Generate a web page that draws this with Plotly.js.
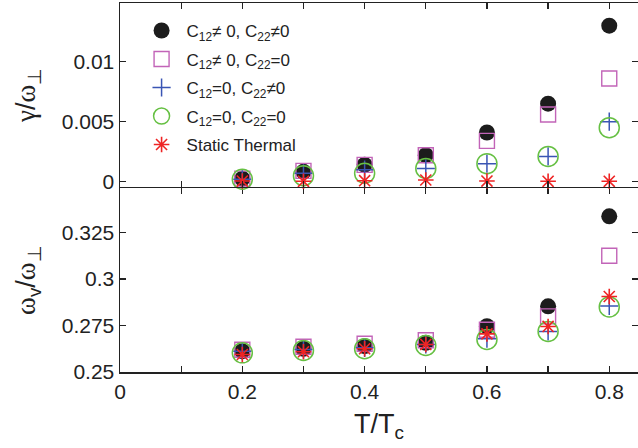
<!DOCTYPE html>
<html>
<head>
<meta charset="utf-8">
<script src="https://cdn.plot.ly/plotly-3.0.1.min.js"></script>
<style>html,body{margin:0;padding:0;background:#fff;}#chart{width:638px;height:448px;}</style>
</head>
<body>
<div id="chart"></div>
<script>
// Temperatures T/Tc
const temps = [0.2, 0.3, 0.4, 0.5, 0.6, 0.7, 0.8];

// Series names
const seriesNames = [
  "C<sub>12</sub>\u2260 0, C<sub>22</sub>\u22600",
  "C<sub>12</sub>\u2260 0, C<sub>22</sub>=0",
  "C<sub>12</sub>=0, C<sub>22</sub>\u22600",
  "C<sub>12</sub>=0, C<sub>22</sub>=0",
  "Static Thermal"
];

// Top panel: damping gamma / omega_perp
const gammaFull      = [0.00025, 0.00083, 0.0014, 0.0022, 0.0041, 0.0065, 0.0130];
const gammaC12Only   = [0.00025, 0.0009, 0.0014, 0.0022, 0.0034, 0.0056, 0.0086];
const gammaC22Only   = [0.0002, 0.0007, 0.0010, 0.0011, 0.0015, 0.0021, 0.0050];
const gammaNone      = [0.0002, 0.0005, 0.0007, 0.0011, 0.0015, 0.0021, 0.0045];
const gammaStatic    = [0.00005, 0.00003, 0.00008, 0.00014, 0.00005, 0.00003, 0.00003];

// Bottom panel: frequency omega_v / omega_perp
const omegaFull      = [0.2612, 0.2625, 0.2639, 0.2657, 0.2746, 0.2853, 0.3337];
const omegaC12Only   = [0.2620, 0.2636, 0.2652, 0.2671, 0.2727, 0.2799, 0.3125];
const omegaC22Only   = [0.2612, 0.2621, 0.2630, 0.2648, 0.2679, 0.2718, 0.2855];
const omegaNone      = [0.2603, 0.2616, 0.2625, 0.2643, 0.2675, 0.2718, 0.2850];
const omegaStatic    = [0.2594, 0.2609, 0.2625, 0.2648, 0.2705, 0.2745, 0.2906];

// Tick labels
const xTickVals = [0, 0.1, 0.2, 0.3, 0.4, 0.5, 0.6, 0.7, 0.8];
const xTickText = ["0", "", "0.2", "", "0.4", "", "0.6", "", "0.8"];
const gammaTickVals = [0, 0.005, 0.01];
const gammaTickText = ["0", "0.005", "0.01"];
const omegaTickVals = [0.25, 0.275, 0.3, 0.325];
const omegaTickText = ["0.25", "0.275", "0.3", "0.325"];

const markerStyles = [
  {symbol: "circle", size: 16, color: "#1c1c1c", line: {width: 0}},
  {symbol: "square-open", size: 15, color: "#c264b8", line: {width: 1.4}},
  {symbol: "cross-thin-open", size: 13, color: "#3a55b4", line: {width: 1.5, color: "#3a55b4"}},
  {symbol: "circle-open", size: 20, color: "#66c043", line: {width: 1.5}},
  {symbol: "asterisk-open", size: 13, color: "#ee2424", line: {width: 1.6, color: "#ee2424"}}
];

const gammaSeries = [gammaFull, gammaC12Only, gammaC22Only, gammaNone, gammaStatic];
const omegaSeries = [omegaFull, omegaC12Only, omegaC22Only, omegaNone, omegaStatic];

const traces = [];
for (let i = 0; i < seriesNames.length; i++) {
  traces.push({
    x: temps, y: gammaSeries[i], type: "scatter", mode: "markers",
    name: seriesNames[i], legendgroup: "g" + i, showlegend: true,
    marker: markerStyles[i], xaxis: "x2", yaxis: "y2", cliponaxis: false
  });
  traces.push({
    x: temps, y: omegaSeries[i], type: "scatter", mode: "markers",
    name: seriesNames[i], legendgroup: "g" + i, showlegend: false,
    marker: markerStyles[i], xaxis: "x", yaxis: "y", cliponaxis: false
  });
}

const SANS = "Liberation Sans, Arial, sans-serif";
const greek = s => '<span style="font-family:Liberation Serif, Times New Roman, serif">' + s + '</span>';

const axisCommon = {
  showline: true, linecolor: "#222", linewidth: 1.5,
  ticks: "inside", ticklen: 6, tickwidth: 1.2, tickcolor: "#222",
  mirror: "ticks", showgrid: false, zeroline: false,
  tickfont: {family: SANS, size: 21, color: "#222"}
};

const titleFont = {size: 27, family: SANS, color: "#222"};

const layout = {
  width: 638, height: 448,
  margin: {l: 120, r: 0, t: 3, b: 76},
  paper_bgcolor: "#fff", plot_bgcolor: "#fff",
  font: {family: SANS, color: "#222"},
  showlegend: true,
  legend: {
    x: 0.032, y: 0.973, xanchor: "left", yanchor: "top",
    bgcolor: "rgba(0,0,0,0)", borderwidth: 0,
    font: {family: SANS, size: 17, color: "#222"},
    tracegroupgap: 3.4, itemwidth: 40
  },
  xaxis: Object.assign({}, axisCommon, {
    domain: [0, 1], anchor: "y", range: [0, 0.847],
    tickmode: "array", tickvals: xTickVals, ticktext: xTickText,
    title: {text: "T/T<sub>c</sub>", font: titleFont, standoff: 12}
  }),
  xaxis2: Object.assign({}, axisCommon, {
    domain: [0, 1], anchor: "y2", range: [0, 0.847], matches: "x",
    tickmode: "array", tickvals: xTickVals, showticklabels: false
  }),
  yaxis: Object.assign({}, axisCommon, {
    domain: [0, 0.498], anchor: "x", range: [0.25, 0.3488],
    tickmode: "array", tickvals: omegaTickVals, ticktext: omegaTickText,
    title: {text: greek("\u03c9") + "<sub>v</sub>/" + greek("\u03c9") + "<sub>\u22a5</sub>", font: titleFont, standoff: 18}
  }),
  yaxis2: Object.assign({}, axisCommon, {
    domain: [0.502, 1], anchor: "x2", range: [-0.000425, 0.01489],
    tickmode: "array", tickvals: gammaTickVals, ticktext: gammaTickText,
    title: {text: greek("\u03b3") + "/" + greek("\u03c9") + "<sub>\u22a5</sub>", font: titleFont, standoff: 18}
  })
};

Plotly.newPlot("chart", traces, layout, {displayModeBar: false, staticPlot: true});
</script>
</body>
</html>
